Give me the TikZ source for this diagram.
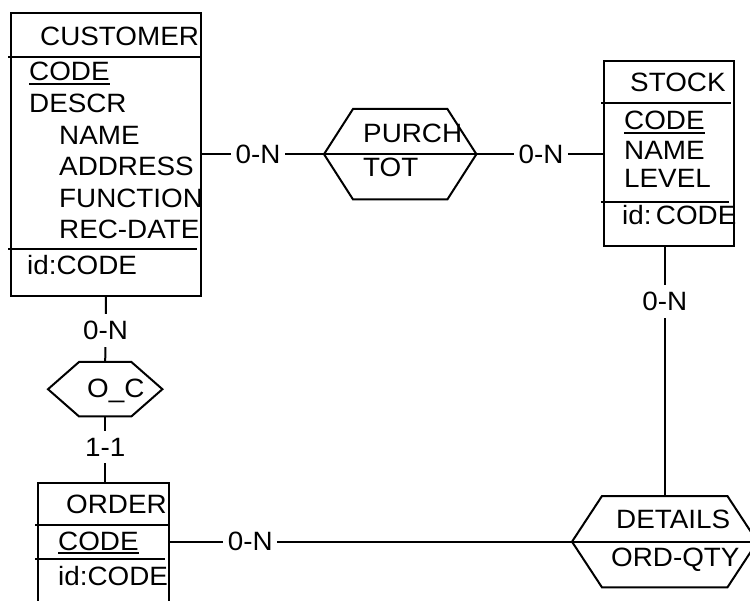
\documentclass[tikz,border=0pt]{standalone}
\usepackage{fontspec}
\setmainfont{Liberation Sans}[FakeStretch=1.05]

\begin{document}
\begin{tikzpicture}[x=1pt, y=-1pt,
    line/.style={line width=2pt},
    entity/.style={draw, line width=2pt, anchor=north west, inner sep=0pt},
    rel/.style={inner sep=0pt, anchor=north west},
    attr/.style={anchor=base west, inner sep=0pt, font=\fontsize{26.5}{30}\selectfont},
    card/.style={fill=white, inner xsep=4.5pt, inner ysep=7pt, font=\fontsize{26.5}{30}\selectfont},
    link/.style={line width=2pt}
]

% Frame
\useasboundingbox (0,0) rectangle (750,601);
\clip (0,0) rectangle (750,601);

% Entity boxes
\node[entity, minimum width=190, minimum height=283] (customer) at (10,12) {};
\node[entity, minimum width=130, minimum height=185] (stock) at (603,60) {};
\node[entity, minimum width=131, minimum height=140] (order) at (37,482) {};

% Compartment lines
\draw[line] (8,57) -- (200,57);
\draw[line] (8,249) -- (197,249);
\draw[line] (601,103) -- (731,103);
\draw[line] (601,202) -- (729,202);
\draw[line] (35,525) -- (168,525);
\draw[line] (35,559) -- (165,559);

% Entity texts
\node[attr] (cust-title) at (40,46) {CUSTOMER};
\node[attr] (cust-code) at (29,81) {CODE};
\node[attr] (cust-descr) at (29,113) {DESCR};
\node[attr] (cust-name) at (59,145) {NAME};
\node[attr] (cust-addr) at (59,176) {ADDRESS};
\node[attr] (cust-func) at (59,208) {FUNCTION};
\node[attr] (cust-date) at (59,239) {REC-DATE};
\node[attr] (cust-id) at (27,275) {id:CODE};

\node[attr] (stock-title) at (630,92) {STOCK};
\node[attr] (stock-code) at (624,130) {CODE};
\node[attr] (stock-name) at (624,160) {NAME};
\node[attr] (stock-level) at (624,188) {LEVEL};
\node[attr] (stock-id) at (622,225) {id:\,CODE};

\node[attr] (order-title) at (66,513) {ORDER};
\node[attr] (order-code) at (58,550) {CODE};
\node[attr] (order-id) at (58,585) {id:CODE};

% Identifier underlines
\foreach \k in {cust-code, stock-code, order-code}
    \draw[line, line width=1.4pt] ([yshift=-3]\k.base west) -- ([yshift=-3]\k.base east);

% Relationship hexagons
\node[rel, minimum width=94, minimum height=90] (purch) at (353,109) {};
\node[rel, minimum width=52, minimum height=54] (oc) at (79,362) {};
\node[rel, minimum width=125, minimum height=91] (details) at (602,496) {};

\foreach \r/\s in {purch/29, oc/31, details/30}
    \draw[line] (\r.north west) -- (\r.north east) -- ([xshift=\s]\r.east)
        -- (\r.south east) -- (\r.south west) -- ([xshift=-\s]\r.west) -- cycle;
\draw[line] ([xshift=-29]purch.west) -- ([xshift=29]purch.east);
\draw[line] ([xshift=-30]details.west) -- ([xshift=30]details.east);

\node[attr] (purch-name) at (363,143) {PURCH};
\node[attr] (purch-attr) at (363,177) {TOT};
\node[attr] (oc-name) at (87,398) {O\_C};
\node[attr] (details-name) at (616,529) {DETAILS};
\node[attr] (details-attr) at (611,566) {ORD-QTY};

% Connectors
\draw[link] (customer.east |- purch.west) -- node[card, pos=0.46] {0-N} ([xshift=-29]purch.west);
\draw[link] ([xshift=29]purch.east) -- node[card, pos=0.51] {0-N} (stock.west |- purch.east);
\draw[link] (stock.south -| details.north) -- node[card, pos=0.22] {0-N} (details.north);
\draw[link] (customer.south) -- node[card, pos=0.52] {0-N} (oc.north);
\draw[link] (oc.south) -- node[card, pos=0.47] {1-1} (oc.south |- order.north);
\draw[link] (order.east |- details.west) -- node[card, pos=0.2] {0-N} ([xshift=-30]details.west);

\end{tikzpicture}
\end{document}
